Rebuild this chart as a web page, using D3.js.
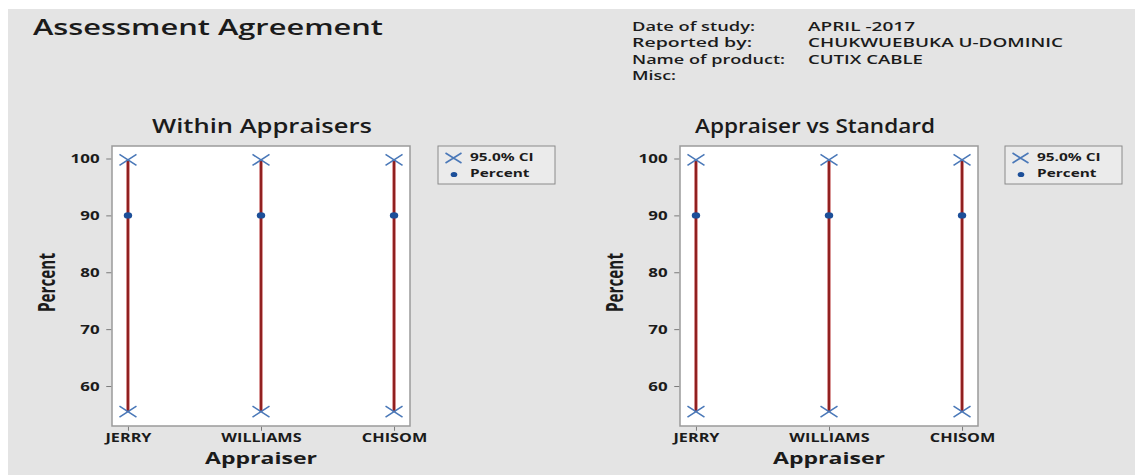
<!DOCTYPE html>
<html>
<head>
<meta charset="utf-8">
<script src="https://cdn.jsdelivr.net/npm/d3@7"></script>
<style>
  html, body { margin: 0; padding: 0; background: #ffffff; }
  svg { display: block; }
  text { font-family: "Open Sans", "Noto Sans", sans-serif; fill: #1b1b1b; }
</style>
</head>
<body>
<svg id="chart" width="1135" height="475"></svg>
<script>
// ---- data ----
const appraisers = ["JERRY", "WILLIAMS", "CHISOM"];
const withinPercent = [90, 90, 90];
const withinLower = [55.5, 55.5, 55.5];
const withinUpper = [99.75, 99.75, 99.75];
const standardPercent = [90, 90, 90];
const standardLower = [55.5, 55.5, 55.5];
const standardUpper = [99.75, 99.75, 99.75];
const percentTicks = [60, 70, 80, 90, 100];
const percentDomain = [52.97, 102.2];
const headerLabels = ["Date of study:", "Reported by:", "Name of product:", "Misc:"];
const headerValues = ["APRIL -2017", "CHUKWUEBUKA U-DOMINIC", "CUTIX CABLE", ""];
const legendLabels = ["95.0% CI", "Percent"];

// ---- layout ----
const SX = 1.3;            // horizontal stretch used for type and markers
const svg = d3.select("#chart");
const C = {
  bg: "#e4e4e4", frame: "#9a9a9a", tick: "#7a7a7a",
  ci: "#b32e2e", ciCore: "#6e1414", cross: "#4a78b8", dot: "#1c4f99"
};

svg.append("rect").attr("x", 0).attr("y", 0).attr("width", 1135).attr("height", 475).attr("fill", "#ffffff");
svg.append("rect").attr("x", 8).attr("y", 9).attr("width", 1127).attr("height", 466).attr("fill", C.bg);

// text fitted to a given width
function fitText(parent, str, x, y, width, size, weight) {
  return parent.append("text")
    .attr("x", x).attr("y", y)
    .attr("font-size", size).attr("font-weight", weight || 600)
    .attr("textLength", width).attr("lengthAdjust", "spacingAndGlyphs")
    .text(str);
}

// main title
fitText(svg, "Assessment Agreement", 33, 35, 350, 21, 600);

// study info block
const headerBase = [31, 47, 63.5, 80];
const headerLabelW = [123, 120, 153, 44];
const headerValueW = [107, 255, 115, 0];
headerLabels.forEach((s, i) => fitText(svg, s, 632, headerBase[i], headerLabelW[i], 13, 600));
headerValues.forEach((s, i) => { if (s) fitText(svg, s, 808, headerBase[i], headerValueW[i], 13, 600); });

function crossPath(hw, hh) {
  return `M${-hw},${-hh}L${hw},${hh}M${-hw},${hh}L${hw},${-hh}`;
}

function drawPanel(o) {
  const top = 146, bottom = 426, width = 298;
  const g = svg.append("g");
  const x = d3.scalePoint().domain(appraisers).range([o.left, o.left + width]).padding(0.12);
  const y = d3.scaleLinear().domain(percentDomain).range([bottom, top]);

  // panel title
  fitText(g, o.title, o.titleX, 133, o.titleW, 19, 600);

  // plot area
  g.append("rect")
    .attr("x", o.left).attr("y", top).attr("width", width).attr("height", bottom - top)
    .attr("fill", "#ffffff").attr("stroke", C.frame).attr("stroke-width", 1.5);

  // y axis
  const ya = g.append("g").attr("transform", `translate(${o.left - 0.75},0)`)
    .call(d3.axisLeft(y).tickValues(percentTicks).tickSize(5).tickPadding(3));
  ya.select(".domain").remove();
  ya.selectAll(".tick line").attr("stroke", C.tick);
  ya.selectAll(".tick text")
    .attr("x", -9).attr("transform", `scale(${SX},1)`)
    .attr("font-size", 13).attr("font-weight", 700)
    .attr("font-family", null).attr("fill", "#1b1b1b");

  // x axis
  const xa = g.append("g").attr("transform", `translate(0,${bottom + 0.75})`)
    .call(d3.axisBottom(x).tickSize(4).tickPadding(2.5));
  xa.select(".domain").remove();
  xa.selectAll(".tick line").attr("stroke", C.tick);
  xa.selectAll(".tick text")
    .attr("transform", `scale(${SX},1)`)
    .attr("font-size", 12.5).attr("font-weight", 700)
    .attr("font-family", null).attr("fill", "#1b1b1b");

  // axis titles
  g.append("text")
    .attr("transform", `translate(${o.left - 65.5},282.5) scale(${SX},1) rotate(-90)`)
    .attr("x", -29.5).attr("y", 6.5)
    .attr("font-size", 18).attr("font-weight", 700)
    .attr("textLength", 59).attr("lengthAdjust", "spacingAndGlyphs")
    .text("Percent");
  fitText(g, "Appraiser", o.left + width / 2 - 56, 463.5, 112, 16.5, 700);

  // confidence intervals
  const rows = appraisers.map((a, i) => ({ a, p: o.percent[i], lo: o.lower[i], hi: o.upper[i] }));
  g.selectAll(".ci").data(rows).join("line")
    .attr("x1", d => x(d.a)).attr("x2", d => x(d.a))
    .attr("y1", d => y(d.lo)).attr("y2", d => y(d.hi))
    .attr("stroke", C.ci).attr("stroke-width", 3);
  g.selectAll(".ci-core").data(rows).join("line")
    .attr("x1", d => x(d.a)).attr("x2", d => x(d.a))
    .attr("y1", d => y(d.lo)).attr("y2", d => y(d.hi))
    .attr("stroke", C.ciCore).attr("stroke-width", 1);

  // interval end markers
  const ends = rows.flatMap(d => [{ a: d.a, v: d.lo }, { a: d.a, v: d.hi }]);
  g.selectAll(".end").data(ends).join("path")
    .attr("transform", d => `translate(${x(d.a)},${y(d.v)})`)
    .attr("d", crossPath(8.5, 5.5))
    .attr("fill", "none").attr("stroke", C.cross).attr("stroke-width", 1.6);

  // percent points
  g.selectAll(".pt").data(rows).join("ellipse")
    .attr("cx", d => x(d.a)).attr("cy", d => y(d.p))
    .attr("rx", 4.2).attr("ry", 3.2).attr("fill", C.dot);

  // legend
  const lx = o.legendX;
  g.append("rect").attr("x", lx).attr("y", 146).attr("width", 117).attr("height", 38)
    .attr("fill", "#ebebeb").attr("stroke", "#8a8a8a").attr("stroke-width", 1);
  g.append("path").attr("transform", `translate(${lx + 15.5},158)`)
    .attr("d", crossPath(8, 5)).attr("fill", "none").attr("stroke", C.cross).attr("stroke-width", 1.6);
  g.append("ellipse").attr("cx", lx + 16).attr("cy", 174.5).attr("rx", 3.3).attr("ry", 2.6).attr("fill", C.dot);
  legendLabels.forEach((s, i) => {
    g.append("text")
      .attr("transform", `translate(${lx + 32},${161 + i * 15.5}) scale(1.4,1)`)
      .attr("font-size", 11).attr("font-weight", 700)
      .text(s);
  });
}

drawPanel({
  left: 112, title: "Within Appraisers", titleX: 152, titleW: 220, legendX: 438,
  percent: withinPercent, lower: withinLower, upper: withinUpper
});
drawPanel({
  left: 680, title: "Appraiser vs Standard", titleX: 695, titleW: 240, legendX: 1005,
  percent: standardPercent, lower: standardLower, upper: standardUpper
});
</script>
</body>
</html>
